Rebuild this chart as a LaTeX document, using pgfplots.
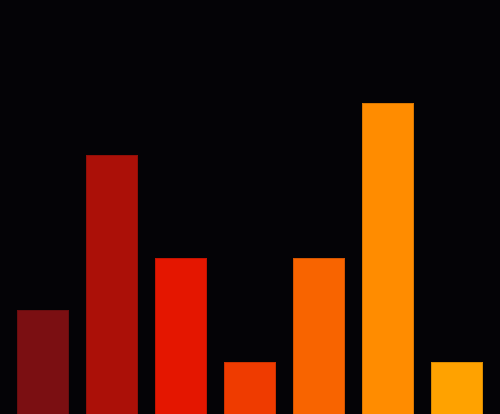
\documentclass[border=0pt]{standalone}
\usepackage{pgfplots}
\pgfplotsset{compat=1.18}
\definecolor{bg}{HTML}{040306}
\definecolor{c1}{HTML}{7B0F12}
\definecolor{c2}{HTML}{AB1008}
\definecolor{c3}{HTML}{E41600}
\definecolor{c4}{HTML}{EF3B00}
\definecolor{c5}{HTML}{F86400}
\definecolor{c6}{HTML}{FF8C00}
\definecolor{c7}{HTML}{FFA200}
\begin{document}
\begin{tikzpicture}
\begin{axis}[
  scale only axis, width=500bp, height=414bp,
  xmin=-0.623, xmax=6.623, ymin=0, ymax=8,
  axis lines=none, ticks=none,
  axis background/.style={fill=bg},
  ybar, bar width=0.74, bar shift=0pt,
]
\addplot[fill=c1, draw=c1!85!black, line width=0.5bp] coordinates {(0,2)};
\addplot[fill=c2, draw=c2!85!black, line width=0.5bp] coordinates {(1,5)};
\addplot[fill=c3, draw=c3!85!black, line width=0.5bp] coordinates {(2,3)};
\addplot[fill=c4, draw=c4!85!black, line width=0.5bp] coordinates {(3,1)};
\addplot[fill=c5, draw=c5!85!black, line width=0.5bp] coordinates {(4,3)};
\addplot[fill=c6, draw=c6!85!black, line width=0.5bp] coordinates {(5,6)};
\addplot[fill=c7, draw=c7!85!black, line width=0.5bp] coordinates {(6,1)};
\end{axis}
\end{tikzpicture}
\end{document}
